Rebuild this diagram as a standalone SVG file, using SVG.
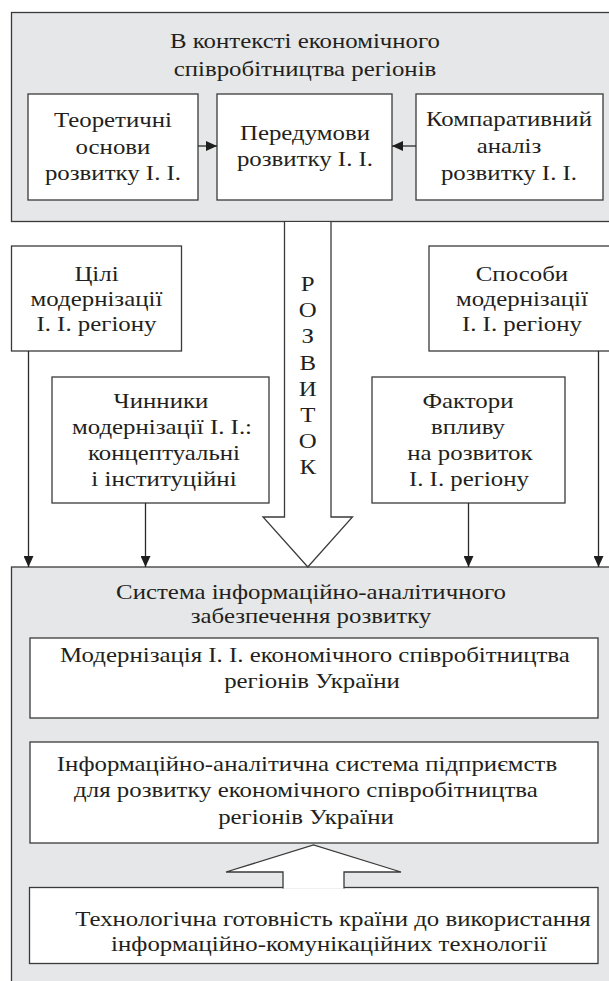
<svg xmlns="http://www.w3.org/2000/svg" width="609" height="981" viewBox="0 0 609 981">
<style>
.bg{fill:#e6e7e8;stroke:#3a3a3a;stroke-width:1.3}
.bx{fill:#ffffff;stroke:#3a3a3a;stroke-width:1.3}
.ar{fill:#ffffff;stroke:#3a3a3a;stroke-width:1.3}
.ln{fill:none;stroke:#2a2a2a;stroke-width:1.3}
text{font-family:"Liberation Serif","Times New Roman",serif;font-size:22px;fill:#231f20;text-anchor:middle;transform-box:fill-box;transform-origin:center;transform:scaleX(1.13)}
</style>
<defs>
<marker id="ah" viewBox="0 0 11 10" refX="11" refY="5" markerWidth="11" markerHeight="10" markerUnits="userSpaceOnUse" orient="auto">
<path d="M0,0 L11,5 L0,10 z" fill="#1e1e1e"/>
</marker>
</defs>
<rect width="609" height="981" fill="#ffffff"/>

<g id="context">
<rect class="bg" x="11.5" y="12.5" width="620" height="209"/>
<text x="305" y="48">В контексті економічного</text>
<text x="305" y="76">співробітництва регіонів</text>
</g>
<g id="theory">
<rect class="bx" x="28" y="94" width="170" height="106"/>
<text x="113" y="127">Теоретичні</text>
<text x="113" y="154">основи</text>
<text x="113" y="180">розвитку І. І.</text>
</g>
<g id="preconditions">
<rect class="bx" x="217" y="94" width="175" height="106"/>
<text x="305" y="140">Передумови</text>
<text x="305" y="166.5">розвитку І. І.</text>
</g>
<g id="comparative">
<rect class="bx" x="416" y="94" width="187" height="106"/>
<text x="509" y="126.5">Компаративний</text>
<text x="509" y="153">аналіз</text>
<text x="509" y="180">розвитку І. І.</text>
</g>

<g id="system">
<rect class="bg" x="11.5" y="567" width="620" height="430"/>
<text x="311" y="599">Система інформаційно-аналітичного</text>
<text x="311" y="623.5">забезпечення розвитку</text>
</g>

<g id="development">
<path class="ar" d="M284.5,222 V517 H263 L307.8,567 L352.5,517 H331 V222"/>
<text x="307.8" y="291">Р</text>
<text x="307.8" y="317">О</text>
<text x="307.8" y="343">З</text>
<text x="307.8" y="370">В</text>
<text x="307.8" y="396">И</text>
<text x="307.8" y="422">Т</text>
<text x="307.8" y="448">О</text>
<text x="307.8" y="474">К</text>
</g>

<g id="goals">
<rect class="bx" x="11.5" y="246" width="170" height="105"/>
<text x="96.5" y="281">Цілі</text>
<text x="96.5" y="306">модернізації</text>
<text x="96.5" y="331">І. І. регіону</text>
</g>
<g id="methods">
<rect class="bx" x="429" y="246" width="190" height="105"/>
<text x="522" y="281">Способи</text>
<text x="522" y="306">модернізації</text>
<text x="522" y="331">І. І. регіону</text>
</g>
<g id="drivers">
<rect class="bx" x="52" y="377" width="217" height="126"/>
<text x="161" y="408">Чинники</text>
<text x="162" y="434">модернізації І. І.:</text>
<text x="164" y="460">концептуальні</text>
<text x="164" y="486">і інституційні</text>
</g>
<g id="factors">
<rect class="bx" x="372" y="377" width="193" height="126"/>
<text x="468" y="408">Фактори</text>
<text x="468" y="434">впливу</text>
<text x="470" y="460">на розвиток</text>
<text x="469" y="486">І. І. регіону</text>
</g>

<g id="modernization">
<rect class="bx" x="30" y="638" width="568" height="80"/>
<text x="315" y="662">Модернізація І. І. економічного співробітництва</text>
<text x="312" y="688">регіонів України</text>
</g>
<g id="infosystem">
<rect class="bx" x="30" y="742" width="568" height="101"/>
<text x="307" y="771">Інформаційно-аналітична система підприємств</text>
<text x="306" y="797.5">для розвитку економічного співробітництва</text>
<text x="306" y="824">регіонів України</text>
</g>
<g id="readiness">
<rect class="bx" x="29.5" y="887.5" width="568.5" height="76"/>
<text x="333" y="926">Технологічна готовність країни до використання</text>
<text x="329" y="951">інформаційно-комунікаційних технології</text>
</g>
<g id="uparrow">
<path class="ar" d="M283,888.6 V872 H226 L313.5,845 L401,872 H344 V888.6"/>
</g>

<g id="connectors">
<path class="ln" d="M198,146 H217" marker-end="url(#ah)"/>
<path class="ln" d="M416,146 H392" marker-end="url(#ah)"/>
<path class="ln" d="M28.5,351 V567" marker-end="url(#ah)"/>
<path class="ln" d="M145.5,503 V567" marker-end="url(#ah)"/>
<path class="ln" d="M468.5,503 V567" marker-end="url(#ah)"/>
<path class="ln" d="M598.5,351 V567" marker-end="url(#ah)"/>
</g>
</svg>
